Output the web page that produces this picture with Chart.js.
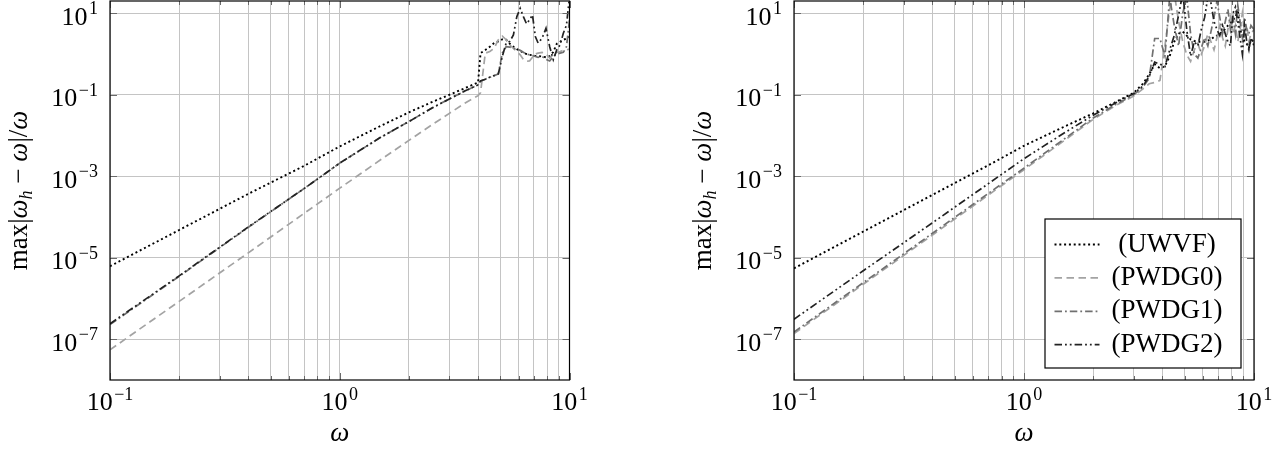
<!DOCTYPE html>
<html>
<head>
<meta charset="utf-8">
<title>Relative dispersion error</title>
<script src="https://cdn.jsdelivr.net/npm/chart.js@4.4.1/dist/chart.umd.min.js"></script>
<style>
  html, body { margin: 0; padding: 0; background: #ffffff; overflow: hidden; }
  #wrap { position: relative; width: 1285px; height: 453px; }
  canvas { position: absolute; top: 0; }
  #left { left: 0; }
  #right { left: 640px; }
</style>
</head>
<body>
<div id="wrap">
  <canvas id="left" width="640" height="453"></canvas>
  <canvas id="right" width="645" height="453"></canvas>
</div>
<script>
// ---- data: relative error max|w_h - w|/w against w ----
const seriesNames = ['(UWVF)', '(PWDG0)', '(PWDG1)', '(PWDG2)'];
const xTickExponents = [-1, 0, 1];
const yTickExponents = [1, -1, -3, -5, -7];

// left panel
const omegaLeft = [0.1, 0.2, 0.4, 0.7, 1, 1.5, 2, 2.5, 3, 3.5, 4, 4.1, 4.3, 4.5, 4.7, 4.9, 5.1, 5.3, 5.5, 5.7,
  5.9, 6.1, 6.3, 6.5, 6.7, 6.9, 7.1, 7.3, 7.6, 7.9, 8.2, 8.5, 8.8, 9.1, 9.4, 9.7, 10];
const uwvfLeft = [6.2e-6, 4.8e-5, 3.7e-4, 1.8e-3, 5.4e-3, 1.7e-2, 3.7e-2, 6.5e-2, 0.10, 0.145, 0.20, 1.05, 1.26,
  1.51, 1.86, 2.04, 2.29, 2.24, 1.78, 1.51, 1.32, 1.20, 1.07, 1.00, 0.955, 0.933, 0.891, 0.891, 0.871, 0.832,
  0.891, 1.12, 1.78, 2.0, 2.24, 2.4, 2.63];
const pwdg0Left = [5.5e-8, 8.5e-7, 1.32e-5, 1.23e-4, 5.1e-4, 2.5e-3, 7.6e-3, 1.78e-2, 3.5e-2, 6.2e-2, 9.5e-2,
  0.112, 1.05, 1.15, 1.38, 2.24, 2.75, 2.24, 1.66, 1.38, 1.15, 0.955, 0.741, 0.661, 0.676, 0.832, 1.0, 1.05,
  1.10, 1.0, 0.794, 0.955, 1.10, 1.15, 1.23, 1.26, 1.32];
const pwdg1Left = [2.3e-7, 3.5e-6, 5.6e-5, 5.0e-4, 2.1e-3, 8.9e-3, 2.2e-2, 4.6e-2, 7.9e-2, 0.123, 0.174, 0.219,
  0.240, 0.269, 0.295, 0.324, 1.05, 1.51, 1.48, 1.38, 1.32, 1.23, 1.10, 1.0, 0.955, 0.912, 0.871, 0.832, 0.871,
  0.741, 0.676, 0.871, 1.0, 1.05, 1.10, 1.51, 6.9];
const pwdg2Left = [2.4e-7, 3.6e-6, 5.7e-5, 5.0e-4, 2.1e-3, 8.9e-3, 2.2e-2, 4.6e-2, 7.9e-2, 0.123, 0.174, 0.219,
  0.240, 0.269, 0.295, 0.324, 0.871, 1.86, 2.04, 2.95, 8.3, 13.2, 8.3, 5.5, 6.9, 9.1, 2.69, 1.86, 2.45, 4.27,
  1.51, 0.724, 1.26, 1.66, 3.24, 5.1, 25];

// right panel
const omegaRight = [0.1, 0.2, 0.4, 0.7, 1, 1.5, 2, 2.5, 3, 3.3, 3.5, 3.7, 3.9, 4.1, 4.3, 4.5, 4.7, 4.9, 5.1, 5.3,
  5.5, 5.7, 5.9, 6.1, 6.3, 6.5, 6.7, 6.9, 7.1, 7.3, 7.5, 7.7, 7.9, 8.1, 8.3, 8.5, 8.7, 8.9, 9.1, 9.3, 9.5, 9.7, 10];
const uwvfRight = [5.5e-6, 4.4e-5, 3.5e-4, 1.86e-3, 5.6e-3, 1.66e-2, 3.5e-2, 6.6e-2, 0.112, 0.19, 0.316, 0.562,
  0.447, 0.50, 0.891, 2.0, 3.16, 3.55, 2.82, 2.29, 2.09, 2.0, 2.0, 2.0, 2.14, 2.29, 2.63, 2.82, 3.16, 3.55, 4.17,
  5.0, 5.75, 7.1, 7.6, 12.6, 3.98, 2.82, 2.0, 1.78, 1.41, 2.24, 2.0];
const pwdg0Right = [1.38e-7, 2.24e-6, 3.63e-5, 3.47e-4, 1.45e-3, 7.6e-3, 2.5e-2, 5.4e-2, 9.3e-2, 0.141, 0.186,
  0.20, 0.224, 1.58, 12.6, 31.6, 6.3, 2.0, 0.955, 0.661, 1.26, 1.82, 1.0, 1.58, 3.16, 2.0, 1.26, 2.51, 5.0, 2.51,
  1.58, 3.98, 7.9, 3.16, 5.0, 2.0, 3.98, 10.0, 3.16, 5.0, 2.0, 3.16, 3.98];
const pwdg1Right = [1.51e-7, 2.45e-6, 3.98e-5, 3.8e-4, 1.58e-3, 8.3e-3, 2.7e-2, 5.75e-2, 0.10, 0.158, 0.251, 2.4,
  2.4, 0.891, 25, 5.0, 1.58, 10, 25, 3.16, 1.0, 0.794, 1.41, 2.51, 1.58, 3.55, 7.9, 20, 7.9, 3.16, 6.3, 12.6,
  3.98, 7.9, 3.16, 15.8, 6.3, 2.51, 7.9, 3.98, 3.16, 5.0, 3.98];
const pwdg2Right = [3.1e-7, 4.8e-6, 7.2e-5, 6.6e-4, 2.7e-3, 1.17e-2, 3.16e-2, 6.3e-2, 0.107, 0.166, 0.282, 0.631,
  0.562, 0.490, 1.26, 2.82, 8.9, 31.6, 3.98, 0.891, 2.0, 1.58, 3.98, 7.9, 25, 17.8, 6.3, 3.98, 2.82, 5.0, 3.16,
  2.0, 1.58, 10, 14.1, 6.3, 2.51, 1.0, 5.0, 2.0, 1.26, 2.51, 1.58];

// ---- styling ----
const SERIF = '"Liberation Serif", "DejaVu Serif", serif';
const MAIN_PX = 26;
const SUP_PX = 18;
const TITLE_PX = 27;
const LEGEND_PX = 27;
const GRID = '#c4c4c4';
const STYLES = [
  { color: '#000000', dash: [2, 2.8], width: 1.9 },                 // dotted
  { color: '#a3a3a3', dash: [7.5, 4.5], width: 1.7 },               // dashed
  { color: '#707070', dash: [7.5, 3, 1.8, 3], width: 1.7 },         // dash-dot
  { color: '#222222', dash: [7.5, 3, 1.8, 3, 1.8, 3], width: 1.7 }  // dash-dot-dot
];

// vertical grid at every 1..9 x 10^k inside the x range
const xGridValues = [];
for (let k = -1; k <= 0; k++) for (let m = 1; m <= 9; m++) xGridValues.push(m * Math.pow(10, k));
xGridValues.push(10);

function isPow10(v) { const l = Math.log10(v); return Math.abs(l - Math.round(l)) < 1e-9; }
function expText(e) { return e < 0 ? '\u2212' + (-e) : String(e); }

// "10" with a raised exponent; y is the baseline of "10"
function drawPow(ctx, e, x, y, anchor) {
  const base = '10', sup = expText(e);
  ctx.font = MAIN_PX + 'px ' + SERIF;
  const wb = ctx.measureText(base).width;
  ctx.font = SUP_PX + 'px ' + SERIF;
  const ws = ctx.measureText(sup).width;
  const total = wb + 1.5 + ws;
  const left = anchor === 'right' ? x - total : x - total / 2;
  ctx.textAlign = 'left';
  ctx.textBaseline = 'alphabetic';
  ctx.font = MAIN_PX + 'px ' + SERIF;
  ctx.fillText(base, left, y);
  ctx.font = SUP_PX + 'px ' + SERIF;
  ctx.fillText(sup, left + wb + 1.5, y - 10.5);
}

// y-axis title: max|w_h - w|/w, written bottom-to-top
const yTitleParts = [
  { t: 'max', f: 'n' }, { t: '|', f: 'n' }, { t: '\u03C9', f: 'i' }, { t: 'h', f: 'sub' },
  { t: ' \u2212 ', f: 'n' }, { t: '\u03C9', f: 'i' }, { t: '|/', f: 'n' }, { t: '\u03C9', f: 'i' }
];
function partFont(f) {
  if (f === 'i') return 'italic ' + TITLE_PX + 'px ' + SERIF;
  if (f === 'sub') return 'italic ' + SUP_PX + 'px ' + SERIF;
  return TITLE_PX + 'px ' + SERIF;
}
function drawYTitle(ctx, x, cy) {
  let total = 0;
  const widths = yTitleParts.map(p => { ctx.font = partFont(p.f); const w = ctx.measureText(p.t).width; total += w; return w; });
  ctx.save();
  ctx.translate(x, cy);
  ctx.rotate(-Math.PI / 2);
  ctx.textAlign = 'left';
  ctx.textBaseline = 'alphabetic';
  let pos = -total / 2;
  yTitleParts.forEach((p, i) => {
    ctx.font = partFont(p.f);
    ctx.fillText(p.t, pos, p.f === 'sub' ? 5 : 0);
    pos += widths[i];
  });
  ctx.restore();
}

function strokeLine(ctx, x1, y1, x2, y2) { ctx.beginPath(); ctx.moveTo(x1, y1); ctx.lineTo(x2, y2); ctx.stroke(); }

// frame, inward ticks, tick labels, axis titles and optional legend
const axesDecor = {
  id: 'axesDecor',
  afterDraw(chart, args, opts) {
    const { ctx, chartArea: a, scales: { x, y } } = chart;
    ctx.save();
    ctx.fillStyle = '#000';
    ctx.strokeStyle = '#6a6a6a';
    ctx.lineWidth = 1;
    x.ticks.forEach(t => {
      const px = Math.round(x.getPixelForValue(t.value)) + 0.5;
      const len = isPow10(t.value) ? 7 : 4;
      strokeLine(ctx, px, a.bottom, px, a.bottom - len);
      strokeLine(ctx, px, a.top, px, a.top + len);
    });
    y.ticks.forEach(t => {
      const py = Math.round(y.getPixelForValue(t.value)) + 0.5;
      strokeLine(ctx, a.left, py, a.left + 7, py);
      strokeLine(ctx, a.right, py, a.right - 7, py);
    });
    ctx.strokeStyle = '#000';
    ctx.lineWidth = 1.2;
    ctx.strokeRect(a.left, a.top, a.right - a.left, a.bottom - a.top);

    xTickExponents.forEach(e => drawPow(ctx, e, x.getPixelForValue(Math.pow(10, e)), a.bottom + 30, 'center'));
    yTickExponents.forEach(e => drawPow(ctx, e, a.left - 12, y.getPixelForValue(Math.pow(10, e)) + 11.5, 'right'));

    ctx.font = 'italic ' + TITLE_PX + 'px ' + SERIF;
    ctx.textAlign = 'center';
    ctx.textBaseline = 'alphabetic';
    ctx.fillText('\u03C9', (a.left + a.right) / 2, a.bottom + 61);
    drawYTitle(ctx, a.left - 83, (a.top + a.bottom) / 2);

    if (opts.legend) {
      const w = 196, h = 149;
      const bx = a.right - 13 - w, by = a.bottom - 12 - h;
      ctx.fillStyle = '#fff';
      ctx.fillRect(bx, by, w, h);
      ctx.strokeStyle = '#000';
      ctx.lineWidth = 1.2;
      ctx.strokeRect(bx, by, w, h);
      chart.data.datasets.forEach((ds, i) => {
        const ry = by + 25.5 + i * 33.4;
        const st = STYLES[i];
        ctx.strokeStyle = st.color;
        ctx.lineWidth = st.width;
        ctx.setLineDash(st.dash);
        strokeLine(ctx, bx + 9.5, ry, bx + 54.5, ry);
        ctx.setLineDash([]);
        ctx.fillStyle = '#000';
        ctx.font = LEGEND_PX + 'px ' + SERIF;
        ctx.textAlign = 'center';
        ctx.fillText(ds.label, bx + 122, ry + 7);
      });
    }
    ctx.restore();
  }
};

function makeChart(id, omega, series, pad, legend) {
  return new Chart(document.getElementById(id), {
    type: 'line',
    data: {
      datasets: series.map((vals, i) => ({
        label: seriesNames[i],
        data: omega.map((w, k) => ({ x: w, y: vals[k] })),
        borderColor: STYLES[i].color,
        borderWidth: STYLES[i].width,
        borderDash: STYLES[i].dash,
        pointRadius: 0,
        tension: 0,
        fill: false,
        order: series.length - 1 - i
      }))
    },
    options: {
      responsive: false,
      animation: false,
      events: [],
      layout: { padding: pad },
      plugins: { legend: { display: false }, tooltip: { enabled: false }, axesDecor: { legend } },
      scales: {
        x: {
          type: 'logarithmic', min: 0.1, max: 10,
          afterBuildTicks: s => { s.ticks = xGridValues.map(v => ({ value: v })); },
          ticks: { display: false },
          grid: { color: GRID, lineWidth: 1, drawTicks: false },
          border: { display: false }
        },
        y: {
          type: 'logarithmic', min: 1e-8, max: 20,
          afterBuildTicks: s => { s.ticks = yTickExponents.map(e => ({ value: Math.pow(10, e) })); },
          ticks: { display: false },
          grid: { color: GRID, lineWidth: 1, drawTicks: false },
          border: { display: false }
        }
      }
    },
    plugins: [axesDecor]
  });
}

makeChart('left', omegaLeft, [uwvfLeft, pwdg0Left, pwdg1Left, pwdg2Left],
  { left: 110, right: 70.5, top: 1, bottom: 73 }, false);
makeChart('right', omegaRight, [uwvfRight, pwdg0Right, pwdg1Right, pwdg2Right],
  { left: 154, right: 31, top: 1, bottom: 73 }, true);
</script>
</body>
</html>
